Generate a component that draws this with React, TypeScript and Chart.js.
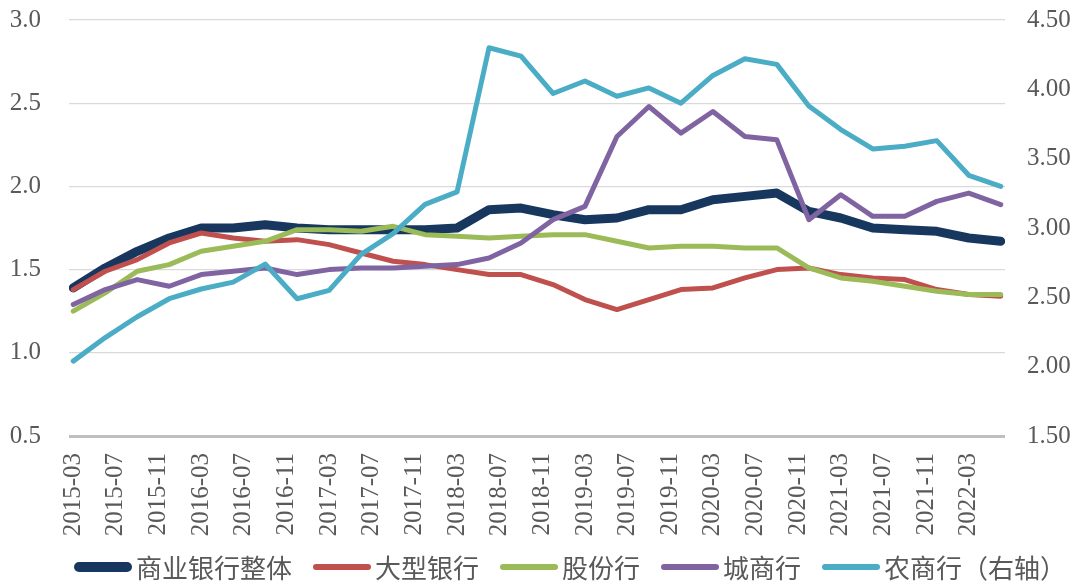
import React, { useEffect, useRef } from 'react';
import { Chart, registerables } from 'chart.js';

Chart.register(...registerables);

// Quarterly observation dates
const categories = [
  '2015-03', '2015-06', '2015-09', '2015-12',
  '2016-03', '2016-06', '2016-09', '2016-12',
  '2017-03', '2017-06', '2017-09', '2017-12',
  '2018-03', '2018-06', '2018-09', '2018-12',
  '2019-03', '2019-06', '2019-09', '2019-12',
  '2020-03', '2020-06', '2020-09', '2020-12',
  '2021-03', '2021-06', '2021-09', '2021-12',
  '2022-03', '2022-06',
];

// Date-axis tick labels (every 4 months)
const tickLabels = [
  '2015-03', '2015-07', '2015-11', '2016-03', '2016-07', '2016-11',
  '2017-03', '2017-07', '2017-11', '2018-03', '2018-07', '2018-11',
  '2019-03', '2019-07', '2019-11', '2020-03', '2020-07', '2020-11',
  '2021-03', '2021-07', '2021-11', '2022-03',
];

const leftTicks = [0.5, 1.0, 1.5, 2.0, 2.5, 3.0];
const rightTicks = [1.5, 2.0, 2.5, 3.0, 3.5, 4.0, 4.5];

// 商业银行整体
const allBanks = [
  1.39, 1.51, 1.61, 1.69, 1.75, 1.75, 1.77, 1.75, 1.74, 1.74,
  1.74, 1.74, 1.75, 1.86, 1.87, 1.83, 1.80, 1.81, 1.86, 1.86,
  1.92, 1.94, 1.96, 1.85, 1.81, 1.75, 1.74, 1.73, 1.69, 1.67,
];
// 大型银行
const largeBanks = [
  1.38, 1.49, 1.56, 1.66, 1.72, 1.69, 1.67, 1.68, 1.65, 1.60,
  1.55, 1.53, 1.50, 1.47, 1.47, 1.41, 1.32, 1.26, 1.32, 1.38,
  1.39, 1.45, 1.50, 1.51, 1.47, 1.45, 1.44, 1.38, 1.35, 1.34,
];
// 股份行
const jointStock = [
  1.25, 1.36, 1.49, 1.53, 1.61, 1.64, 1.67, 1.74, 1.74, 1.73,
  1.76, 1.71, 1.70, 1.69, 1.70, 1.71, 1.71, 1.67, 1.63, 1.64,
  1.64, 1.63, 1.63, 1.51, 1.45, 1.43, 1.40, 1.37, 1.35, 1.35,
];
// 城商行
const cityBanks = [
  1.29, 1.38, 1.44, 1.40, 1.47, 1.49, 1.51, 1.47, 1.50, 1.51,
  1.51, 1.52, 1.53, 1.57, 1.66, 1.80, 1.88, 2.30, 2.48, 2.32,
  2.45, 2.30, 2.28, 1.80, 1.95, 1.82, 1.82, 1.91, 1.96, 1.89,
];
// 农商行（右轴）
const ruralBanks = [
  2.04, 2.21, 2.36, 2.49, 2.56, 2.61, 2.74, 2.49, 2.55, 2.81,
  2.96, 3.17, 3.26, 4.30, 4.24, 3.97, 4.06, 3.95, 4.01, 3.90,
  4.10, 4.22, 4.18, 3.88, 3.71, 3.57, 3.59, 3.63, 3.38, 3.30,
];

const seriesNames = ['商业银行整体', '大型银行', '股份行', '城商行', '农商行（右轴）'];
const seriesColors = ['#17375E', '#C0504D', '#9BBB59', '#8064A2', '#4BACC6'];
const seriesWidths = [9, 5, 5, 5, 5];

const monthIndex = (s: string) => {
  const [y, m] = s.split('-').map(Number);
  return (y - 2015) * 12 + (m - 3);
};

const tickText: Record<number, string> = {};
tickLabels.forEach((t) => { tickText[monthIndex(t)] = t; });

const TICK_FONT = { family: '"Liberation Serif", "Times New Roman", serif', size: 25 };
const TICK_COLOR = '#595959';

export default function App() {
  const canvasRef = useRef<HTMLCanvasElement | null>(null);

  useEffect(() => {
    if (!canvasRef.current) return;
    const allSeries = [allBanks, largeBanks, jointStock, cityBanks, ruralBanks];
    const datasets = allSeries.map((arr, k) => ({
      label: seriesNames[k],
      data: categories.map((c, i) => ({ x: monthIndex(c), y: arr[i] })),
      borderColor: seriesColors[k],
      backgroundColor: seriesColors[k],
      borderWidth: seriesWidths[k],
      pointRadius: 0,
      pointHoverRadius: 0,
      borderCapStyle: 'round' as const,
      borderJoinStyle: 'round' as const,
      tension: 0,
      fill: false,
      yAxisID: k === 4 ? 'y1' : 'y',
      order: 5 - k,
    }));

    const chart = new Chart(canvasRef.current, {
      type: 'line',
      data: { datasets },
      options: {
        animation: false,
        responsive: true,
        maintainAspectRatio: false,
        layout: { padding: { top: 20, left: 0, right: 0, bottom: 0 } },
        plugins: {
          legend: { display: false },
          tooltip: { enabled: false },
        },
        scales: {
          x: {
            type: 'linear',
            min: -0.4,
            max: 87.4,
            afterBuildTicks: (scale: any) => {
              scale.ticks = tickLabels.map((t) => ({ value: monthIndex(t) }));
            },
            afterFit: (scale: any) => {
              scale.height = 149;
              scale.paddingLeft = 0;
              scale.paddingRight = 0;
            },
            grid: { display: false, drawTicks: false },
            border: { display: false },
            ticks: {
              autoSkip: false,
              minRotation: 90,
              maxRotation: 90,
              padding: 17,
              font: TICK_FONT,
              color: TICK_COLOR,
              callback: (v: any) => tickText[v as number] ?? '',
            },
          },
          y: {
            type: 'linear',
            position: 'left',
            min: leftTicks[0],
            max: leftTicks[leftTicks.length - 1],
            afterBuildTicks: (scale: any) => {
              scale.ticks = leftTicks.map((v) => ({ value: v }));
            },
            afterFit: (scale: any) => {
              scale.width = 69;
              scale.paddingTop = 0;
              scale.paddingBottom = 0;
            },
            grid: {
              drawTicks: false,
              color: (ctx: any) => (ctx.tick && ctx.tick.value === leftTicks[0] ? '#BFBFBF' : '#D9D9D9'),
              lineWidth: (ctx: any) => (ctx.tick && ctx.tick.value === leftTicks[0] ? 3 : 1.3),
            },
            border: { display: false },
            ticks: {
              padding: 28,
              font: TICK_FONT,
              color: TICK_COLOR,
              callback: (v: any) => Number(v).toFixed(1),
            },
          },
          y1: {
            type: 'linear',
            position: 'right',
            min: rightTicks[0],
            max: rightTicks[rightTicks.length - 1],
            afterBuildTicks: (scale: any) => {
              scale.ticks = rightTicks.map((v) => ({ value: v }));
            },
            afterFit: (scale: any) => {
              scale.width = 75;
              scale.paddingTop = 0;
              scale.paddingBottom = 0;
            },
            grid: { drawOnChartArea: false, drawTicks: false },
            border: { display: false },
            ticks: {
              padding: 22,
              font: TICK_FONT,
              color: TICK_COLOR,
              callback: (v: any) => Number(v).toFixed(2),
            },
          },
        },
      },
    });
    return () => chart.destroy();
  }, []);

  return (
    <div style={{ position: 'absolute', left: 0, top: 0, width: 1080, height: 585, background: '#ffffff' }}>
      <canvas ref={canvasRef} />
      <div
        style={{
          position: 'absolute',
          left: 74,
          top: 552,
          display: 'flex',
          alignItems: 'center',
          height: 30,
          fontFamily: '"Noto Sans CJK SC", sans-serif',
          fontSize: 26,
          lineHeight: '30px',
          color: '#595959',
          whiteSpace: 'nowrap',
        }}
      >
        {seriesNames.map((name, k) => (
          <div key={name} style={{ display: 'flex', alignItems: 'center', marginRight: 21 }}>
            <div
              style={{
                width: 58,
                height: seriesWidths[k] + 1,
                borderRadius: 5,
                background: seriesColors[k],
                marginRight: 4,
              }}
            />
            <span>{name}</span>
          </div>
        ))}
      </div>
    </div>
  );
}
